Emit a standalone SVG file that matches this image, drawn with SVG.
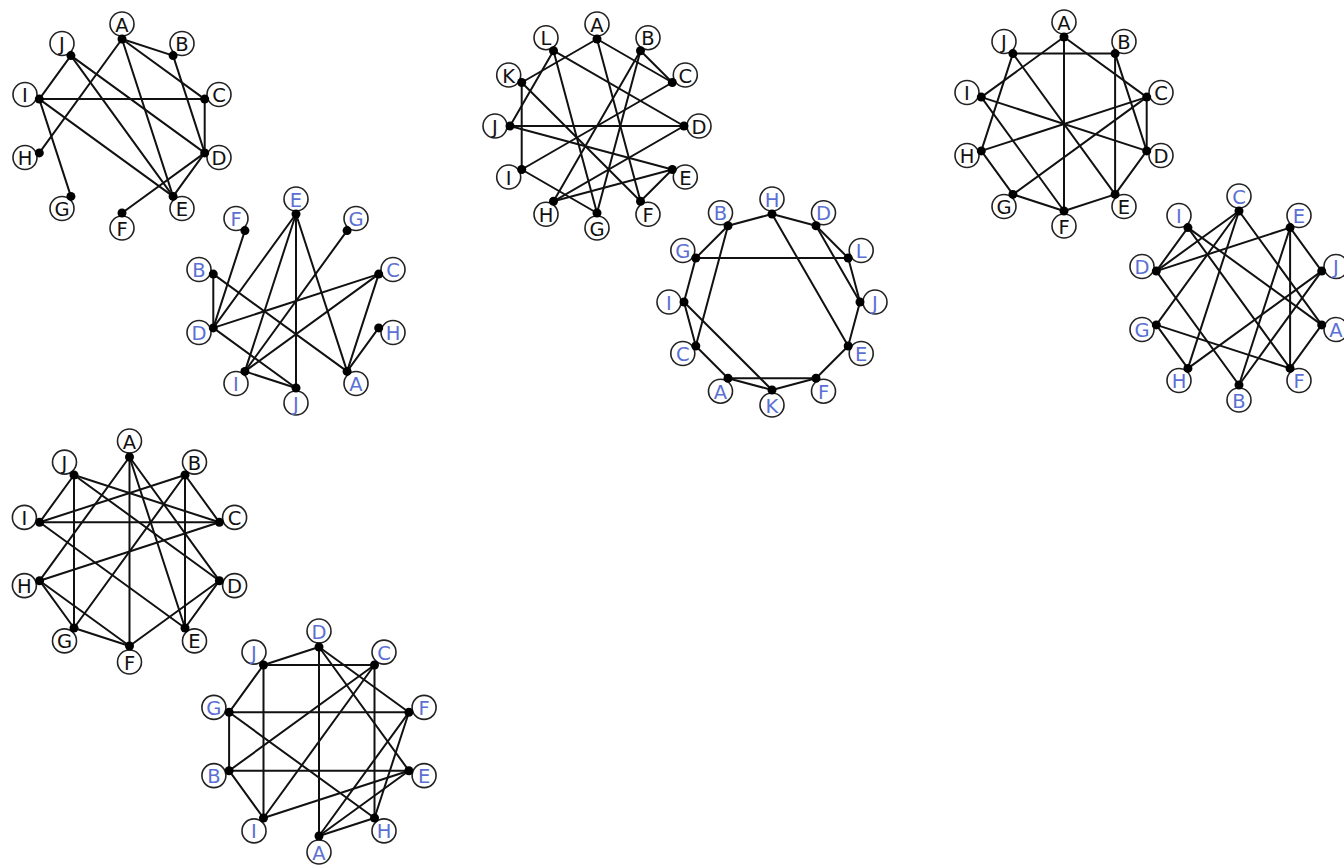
<svg xmlns="http://www.w3.org/2000/svg" width="1344" height="867" viewBox="0 0 1344 867">
<style>
.edges line{stroke:#111;stroke-width:2;stroke-linecap:round}
.lbl{fill:#fff;stroke:#222;stroke-width:1.6}
.dot{fill:#000}
text{font-family:"DejaVu Sans","Liberation Sans",sans-serif;font-size:19.5px;text-anchor:middle;dominant-baseline:central}
.k{fill:#111}
.b{fill:#5b70d4}
</style>
<rect width="1344" height="867" fill="#fff"/>

<!-- Graph 1 -->
<g id="graph1">
<g id="graph1-edges" class="edges">
<line x1="70.9" y1="55.6" x2="39.3" y2="99.1"/>
<line x1="70.9" y1="55.6" x2="173.1" y2="196.4"/>
<line x1="70.9" y1="55.6" x2="204.7" y2="152.9"/>
<line x1="39.3" y1="99.1" x2="204.7" y2="99.1"/>
<line x1="39.3" y1="99.1" x2="173.1" y2="196.4"/>
<line x1="39.3" y1="99.1" x2="70.9" y2="196.4"/>
<line x1="122" y1="39" x2="39.3" y2="152.9"/>
<line x1="122" y1="39" x2="173.1" y2="196.4"/>
<line x1="122" y1="39" x2="173.1" y2="55.6"/>
<line x1="122" y1="39" x2="204.7" y2="99.1"/>
<line x1="173.1" y1="55.6" x2="204.7" y2="152.9"/>
<line x1="204.7" y1="99.1" x2="204.7" y2="152.9"/>
<line x1="204.7" y1="152.9" x2="173.1" y2="196.4"/>
<line x1="204.7" y1="152.9" x2="122" y2="213"/>
</g>
<g id="g1-A"><circle class="lbl" cx="122" cy="24" r="12"/><text class="k" x="122" y="25">A</text><circle class="dot" cx="122" cy="39" r="4.5"/></g>
<g id="g1-B"><circle class="lbl" cx="182" cy="43.5" r="12"/><text class="k" x="182" y="44.5">B</text><circle class="dot" cx="173.1" cy="55.6" r="4.5"/></g>
<g id="g1-C"><circle class="lbl" cx="219" cy="94.5" r="12"/><text class="k" x="219" y="95.5">C</text><circle class="dot" cx="204.7" cy="99.1" r="4.5"/></g>
<g id="g1-D"><circle class="lbl" cx="219" cy="157.5" r="12"/><text class="k" x="219" y="158.5">D</text><circle class="dot" cx="204.7" cy="152.9" r="4.5"/></g>
<g id="g1-E"><circle class="lbl" cx="182" cy="208.5" r="12"/><text class="k" x="182" y="209.5">E</text><circle class="dot" cx="173.1" cy="196.4" r="4.5"/></g>
<g id="g1-F"><circle class="lbl" cx="122" cy="228" r="12"/><text class="k" x="122" y="229">F</text><circle class="dot" cx="122" cy="213" r="4.5"/></g>
<g id="g1-G"><circle class="lbl" cx="62" cy="208.5" r="12"/><text class="k" x="62" y="209.5">G</text><circle class="dot" cx="70.9" cy="196.4" r="4.5"/></g>
<g id="g1-H"><circle class="lbl" cx="25" cy="157.5" r="12"/><text class="k" x="25" y="158.5">H</text><circle class="dot" cx="39.3" cy="152.9" r="4.5"/></g>
<g id="g1-I"><circle class="lbl" cx="25" cy="94.5" r="12"/><text class="k" x="25" y="95.5">I</text><circle class="dot" cx="39.3" cy="99.1" r="4.5"/></g>
<g id="g1-J"><circle class="lbl" cx="62" cy="43.5" r="12"/><text class="k" x="62" y="44.5">J</text><circle class="dot" cx="70.9" cy="55.6" r="4.5"/></g>
</g>

<!-- Graph 2 -->
<g id="graph2">
<g id="graph2-edges" class="edges">
<line x1="244.9" y1="230.6" x2="213.3" y2="327.9"/>
<line x1="296" y1="214" x2="213.3" y2="327.9"/>
<line x1="296" y1="214" x2="244.9" y2="371.4"/>
<line x1="296" y1="214" x2="296" y2="388"/>
<line x1="296" y1="214" x2="347.1" y2="371.4"/>
<line x1="347.1" y1="230.6" x2="244.9" y2="371.4"/>
<line x1="213.3" y1="274.1" x2="213.3" y2="327.9"/>
<line x1="213.3" y1="274.1" x2="347.1" y2="371.4"/>
<line x1="378.7" y1="274.1" x2="213.3" y2="327.9"/>
<line x1="378.7" y1="274.1" x2="244.9" y2="371.4"/>
<line x1="378.7" y1="274.1" x2="347.1" y2="371.4"/>
<line x1="378.7" y1="327.9" x2="347.1" y2="371.4"/>
<line x1="213.3" y1="327.9" x2="296" y2="388"/>
<line x1="244.9" y1="371.4" x2="296" y2="388"/>
</g>
<g id="g2-E"><circle class="lbl" cx="296" cy="199" r="12"/><text class="b" x="296" y="200">E</text><circle class="dot" cx="296" cy="214" r="4.5"/></g>
<g id="g2-G"><circle class="lbl" cx="356" cy="218.5" r="12"/><text class="b" x="356" y="219.5">G</text><circle class="dot" cx="347.1" cy="230.6" r="4.5"/></g>
<g id="g2-C"><circle class="lbl" cx="393" cy="269.5" r="12"/><text class="b" x="393" y="270.5">C</text><circle class="dot" cx="378.7" cy="274.1" r="4.5"/></g>
<g id="g2-H"><circle class="lbl" cx="393" cy="332.5" r="12"/><text class="b" x="393" y="333.5">H</text><circle class="dot" cx="378.7" cy="327.9" r="4.5"/></g>
<g id="g2-A"><circle class="lbl" cx="356" cy="383.5" r="12"/><text class="b" x="356" y="384.5">A</text><circle class="dot" cx="347.1" cy="371.4" r="4.5"/></g>
<g id="g2-J"><circle class="lbl" cx="296" cy="403" r="12"/><text class="b" x="296" y="404">J</text><circle class="dot" cx="296" cy="388" r="4.5"/></g>
<g id="g2-I"><circle class="lbl" cx="236" cy="383.5" r="12"/><text class="b" x="236" y="384.5">I</text><circle class="dot" cx="244.9" cy="371.4" r="4.5"/></g>
<g id="g2-D"><circle class="lbl" cx="199" cy="332.5" r="12"/><text class="b" x="199" y="333.5">D</text><circle class="dot" cx="213.3" cy="327.9" r="4.5"/></g>
<g id="g2-B"><circle class="lbl" cx="199" cy="269.5" r="12"/><text class="b" x="199" y="270.5">B</text><circle class="dot" cx="213.3" cy="274.1" r="4.5"/></g>
<g id="g2-F"><circle class="lbl" cx="236" cy="218.5" r="12"/><text class="b" x="236" y="219.5">F</text><circle class="dot" cx="244.9" cy="230.6" r="4.5"/></g>
</g>

<!-- Graph 3 -->
<g id="graph3">
<g id="graph3-edges" class="edges">
<line x1="597" y1="39" x2="521.7" y2="82.5"/>
<line x1="597" y1="39" x2="672.3" y2="82.5"/>
<line x1="597" y1="39" x2="640.5" y2="201.3"/>
<line x1="553.5" y1="50.7" x2="510" y2="126"/>
<line x1="553.5" y1="50.7" x2="684" y2="126"/>
<line x1="553.5" y1="50.7" x2="597" y2="213"/>
<line x1="521.7" y1="82.5" x2="521.7" y2="169.5"/>
<line x1="521.7" y1="82.5" x2="640.5" y2="201.3"/>
<line x1="640.5" y1="50.7" x2="672.3" y2="82.5"/>
<line x1="640.5" y1="50.7" x2="553.5" y2="201.3"/>
<line x1="640.5" y1="50.7" x2="597" y2="213"/>
<line x1="672.3" y1="82.5" x2="521.7" y2="169.5"/>
<line x1="510" y1="126" x2="684" y2="126"/>
<line x1="510" y1="126" x2="672.3" y2="169.5"/>
<line x1="521.7" y1="169.5" x2="597" y2="213"/>
<line x1="684" y1="126" x2="553.5" y2="201.3"/>
<line x1="672.3" y1="169.5" x2="553.5" y2="201.3"/>
<line x1="672.3" y1="169.5" x2="640.5" y2="201.3"/>
</g>
<g id="g3-A"><circle class="lbl" cx="597" cy="24" r="12"/><text class="k" x="597" y="25">A</text><circle class="dot" cx="597" cy="39" r="4.5"/></g>
<g id="g3-B"><circle class="lbl" cx="648" cy="37.7" r="12"/><text class="k" x="648" y="38.7">B</text><circle class="dot" cx="640.5" cy="50.7" r="4.5"/></g>
<g id="g3-C"><circle class="lbl" cx="685.3" cy="75" r="12"/><text class="k" x="685.3" y="76">C</text><circle class="dot" cx="672.3" cy="82.5" r="4.5"/></g>
<g id="g3-D"><circle class="lbl" cx="699" cy="126" r="12"/><text class="k" x="699" y="127">D</text><circle class="dot" cx="684" cy="126" r="4.5"/></g>
<g id="g3-E"><circle class="lbl" cx="685.3" cy="177" r="12"/><text class="k" x="685.3" y="178">E</text><circle class="dot" cx="672.3" cy="169.5" r="4.5"/></g>
<g id="g3-F"><circle class="lbl" cx="648" cy="214.3" r="12"/><text class="k" x="648" y="215.3">F</text><circle class="dot" cx="640.5" cy="201.3" r="4.5"/></g>
<g id="g3-G"><circle class="lbl" cx="597" cy="228" r="12"/><text class="k" x="597" y="229">G</text><circle class="dot" cx="597" cy="213" r="4.5"/></g>
<g id="g3-H"><circle class="lbl" cx="546" cy="214.3" r="12"/><text class="k" x="546" y="215.3">H</text><circle class="dot" cx="553.5" cy="201.3" r="4.5"/></g>
<g id="g3-I"><circle class="lbl" cx="508.7" cy="177" r="12"/><text class="k" x="508.7" y="178">I</text><circle class="dot" cx="521.7" cy="169.5" r="4.5"/></g>
<g id="g3-J"><circle class="lbl" cx="495" cy="126" r="12"/><text class="k" x="495" y="127">J</text><circle class="dot" cx="510" cy="126" r="4.5"/></g>
<g id="g3-K"><circle class="lbl" cx="508.7" cy="75" r="12"/><text class="k" x="508.7" y="76">K</text><circle class="dot" cx="521.7" cy="82.5" r="4.5"/></g>
<g id="g3-L"><circle class="lbl" cx="546" cy="37.7" r="12"/><text class="k" x="546" y="38.7">L</text><circle class="dot" cx="553.5" cy="50.7" r="4.5"/></g>
</g>

<!-- Graph 4 -->
<g id="graph4">
<g id="graph4-edges" class="edges">
<line x1="728" y1="225.8" x2="772" y2="214"/>
<line x1="772" y1="214" x2="816" y2="225.8"/>
<line x1="772" y1="214" x2="848.2" y2="346"/>
<line x1="816" y1="225.8" x2="848.2" y2="258"/>
<line x1="816" y1="225.8" x2="860" y2="302"/>
<line x1="848.2" y1="258" x2="860" y2="302"/>
<line x1="695.8" y1="258" x2="848.2" y2="258"/>
<line x1="695.8" y1="258" x2="728" y2="225.8"/>
<line x1="695.8" y1="258" x2="684" y2="302"/>
<line x1="728" y1="225.8" x2="695.8" y2="346"/>
<line x1="684" y1="302" x2="695.8" y2="346"/>
<line x1="684" y1="302" x2="772" y2="390"/>
<line x1="695.8" y1="346" x2="728" y2="378.2"/>
<line x1="728" y1="378.2" x2="816" y2="378.2"/>
<line x1="728" y1="378.2" x2="772" y2="390"/>
<line x1="772" y1="390" x2="816" y2="378.2"/>
<line x1="816" y1="378.2" x2="848.2" y2="346"/>
<line x1="848.2" y1="346" x2="860" y2="302"/>
</g>
<g id="g4-H"><circle class="lbl" cx="772" cy="199" r="12"/><text class="b" x="772" y="200">H</text><circle class="dot" cx="772" cy="214" r="4.5"/></g>
<g id="g4-D"><circle class="lbl" cx="823.5" cy="212.8" r="12"/><text class="b" x="823.5" y="213.8">D</text><circle class="dot" cx="816" cy="225.8" r="4.5"/></g>
<g id="g4-L"><circle class="lbl" cx="861.2" cy="250.5" r="12"/><text class="b" x="861.2" y="251.5">L</text><circle class="dot" cx="848.2" cy="258" r="4.5"/></g>
<g id="g4-J"><circle class="lbl" cx="875" cy="302" r="12"/><text class="b" x="875" y="303">J</text><circle class="dot" cx="860" cy="302" r="4.5"/></g>
<g id="g4-E"><circle class="lbl" cx="861.2" cy="353.5" r="12"/><text class="b" x="861.2" y="354.5">E</text><circle class="dot" cx="848.2" cy="346" r="4.5"/></g>
<g id="g4-F"><circle class="lbl" cx="823.5" cy="391.2" r="12"/><text class="b" x="823.5" y="392.2">F</text><circle class="dot" cx="816" cy="378.2" r="4.5"/></g>
<g id="g4-K"><circle class="lbl" cx="772" cy="405" r="12"/><text class="b" x="772" y="406">K</text><circle class="dot" cx="772" cy="390" r="4.5"/></g>
<g id="g4-A"><circle class="lbl" cx="720.5" cy="391.2" r="12"/><text class="b" x="720.5" y="392.2">A</text><circle class="dot" cx="728" cy="378.2" r="4.5"/></g>
<g id="g4-C"><circle class="lbl" cx="682.8" cy="353.5" r="12"/><text class="b" x="682.8" y="354.5">C</text><circle class="dot" cx="695.8" cy="346" r="4.5"/></g>
<g id="g4-I"><circle class="lbl" cx="669" cy="302" r="12"/><text class="b" x="669" y="303">I</text><circle class="dot" cx="684" cy="302" r="4.5"/></g>
<g id="g4-G"><circle class="lbl" cx="682.8" cy="250.5" r="12"/><text class="b" x="682.8" y="251.5">G</text><circle class="dot" cx="695.8" cy="258" r="4.5"/></g>
<g id="g4-B"><circle class="lbl" cx="720.5" cy="212.8" r="12"/><text class="b" x="720.5" y="213.8">B</text><circle class="dot" cx="728" cy="225.8" r="4.5"/></g>
</g>

<!-- Graph 5 -->
<g id="graph5">
<g id="graph5-edges" class="edges">
<line x1="1012.9" y1="53.6" x2="1115.1" y2="53.6"/>
<line x1="1064" y1="37" x2="981.3" y2="97.1"/>
<line x1="1064" y1="37" x2="1064" y2="211"/>
<line x1="1064" y1="37" x2="1146.7" y2="97.1"/>
<line x1="1012.9" y1="53.6" x2="981.3" y2="150.9"/>
<line x1="1012.9" y1="53.6" x2="1115.1" y2="194.4"/>
<line x1="981.3" y1="97.1" x2="1146.7" y2="150.9"/>
<line x1="981.3" y1="97.1" x2="1064" y2="211"/>
<line x1="1115.1" y1="53.6" x2="1115.1" y2="194.4"/>
<line x1="1115.1" y1="53.6" x2="1146.7" y2="150.9"/>
<line x1="1146.7" y1="97.1" x2="1146.7" y2="150.9"/>
<line x1="1146.7" y1="97.1" x2="981.3" y2="150.9"/>
<line x1="1146.7" y1="97.1" x2="1012.9" y2="194.4"/>
<line x1="1146.7" y1="150.9" x2="1115.1" y2="194.4"/>
<line x1="981.3" y1="150.9" x2="1012.9" y2="194.4"/>
<line x1="1012.9" y1="194.4" x2="1064" y2="211"/>
<line x1="1064" y1="211" x2="1115.1" y2="194.4"/>
</g>
<g id="g5-A"><circle class="lbl" cx="1064" cy="22" r="12"/><text class="k" x="1064" y="23">A</text><circle class="dot" cx="1064" cy="37" r="4.5"/></g>
<g id="g5-B"><circle class="lbl" cx="1124" cy="41.5" r="12"/><text class="k" x="1124" y="42.5">B</text><circle class="dot" cx="1115.1" cy="53.6" r="4.5"/></g>
<g id="g5-C"><circle class="lbl" cx="1161" cy="92.5" r="12"/><text class="k" x="1161" y="93.5">C</text><circle class="dot" cx="1146.7" cy="97.1" r="4.5"/></g>
<g id="g5-D"><circle class="lbl" cx="1161" cy="155.5" r="12"/><text class="k" x="1161" y="156.5">D</text><circle class="dot" cx="1146.7" cy="150.9" r="4.5"/></g>
<g id="g5-E"><circle class="lbl" cx="1124" cy="206.5" r="12"/><text class="k" x="1124" y="207.5">E</text><circle class="dot" cx="1115.1" cy="194.4" r="4.5"/></g>
<g id="g5-F"><circle class="lbl" cx="1064" cy="226" r="12"/><text class="k" x="1064" y="227">F</text><circle class="dot" cx="1064" cy="211" r="4.5"/></g>
<g id="g5-G"><circle class="lbl" cx="1004" cy="206.5" r="12"/><text class="k" x="1004" y="207.5">G</text><circle class="dot" cx="1012.9" cy="194.4" r="4.5"/></g>
<g id="g5-H"><circle class="lbl" cx="967" cy="155.5" r="12"/><text class="k" x="967" y="156.5">H</text><circle class="dot" cx="981.3" cy="150.9" r="4.5"/></g>
<g id="g5-I"><circle class="lbl" cx="967" cy="92.5" r="12"/><text class="k" x="967" y="93.5">I</text><circle class="dot" cx="981.3" cy="97.1" r="4.5"/></g>
<g id="g5-J"><circle class="lbl" cx="1004" cy="41.5" r="12"/><text class="k" x="1004" y="42.5">J</text><circle class="dot" cx="1012.9" cy="53.6" r="4.5"/></g>
</g>

<!-- Graph 6 -->
<g id="graph6">
<g id="graph6-edges" class="edges">
<line x1="1239" y1="211" x2="1156.3" y2="271.1"/>
<line x1="1239" y1="211" x2="1156.3" y2="324.9"/>
<line x1="1239" y1="211" x2="1187.9" y2="368.4"/>
<line x1="1239" y1="211" x2="1321.7" y2="324.9"/>
<line x1="1187.9" y1="227.6" x2="1156.3" y2="271.1"/>
<line x1="1187.9" y1="227.6" x2="1290.1" y2="368.4"/>
<line x1="1187.9" y1="227.6" x2="1321.7" y2="324.9"/>
<line x1="1290.1" y1="227.6" x2="1156.3" y2="271.1"/>
<line x1="1290.1" y1="227.6" x2="1290.1" y2="368.4"/>
<line x1="1290.1" y1="227.6" x2="1239" y2="385"/>
<line x1="1290.1" y1="227.6" x2="1321.7" y2="271.1"/>
<line x1="1156.3" y1="271.1" x2="1239" y2="385"/>
<line x1="1156.3" y1="324.9" x2="1187.9" y2="368.4"/>
<line x1="1156.3" y1="324.9" x2="1290.1" y2="368.4"/>
<line x1="1321.7" y1="271.1" x2="1187.9" y2="368.4"/>
<line x1="1321.7" y1="271.1" x2="1239" y2="385"/>
<line x1="1321.7" y1="324.9" x2="1290.1" y2="368.4"/>
</g>
<g id="g6-C"><circle class="lbl" cx="1239" cy="196" r="12"/><text class="b" x="1239" y="197">C</text><circle class="dot" cx="1239" cy="211" r="4.5"/></g>
<g id="g6-E"><circle class="lbl" cx="1299" cy="215.5" r="12"/><text class="b" x="1299" y="216.5">E</text><circle class="dot" cx="1290.1" cy="227.6" r="4.5"/></g>
<g id="g6-J"><circle class="lbl" cx="1336" cy="266.5" r="12"/><text class="b" x="1336" y="267.5">J</text><circle class="dot" cx="1321.7" cy="271.1" r="4.5"/></g>
<g id="g6-A"><circle class="lbl" cx="1336" cy="329.5" r="12"/><text class="b" x="1336" y="330.5">A</text><circle class="dot" cx="1321.7" cy="324.9" r="4.5"/></g>
<g id="g6-F"><circle class="lbl" cx="1299" cy="380.5" r="12"/><text class="b" x="1299" y="381.5">F</text><circle class="dot" cx="1290.1" cy="368.4" r="4.5"/></g>
<g id="g6-B"><circle class="lbl" cx="1239" cy="400" r="12"/><text class="b" x="1239" y="401">B</text><circle class="dot" cx="1239" cy="385" r="4.5"/></g>
<g id="g6-H"><circle class="lbl" cx="1179" cy="380.5" r="12"/><text class="b" x="1179" y="381.5">H</text><circle class="dot" cx="1187.9" cy="368.4" r="4.5"/></g>
<g id="g6-G"><circle class="lbl" cx="1142" cy="329.5" r="12"/><text class="b" x="1142" y="330.5">G</text><circle class="dot" cx="1156.3" cy="324.9" r="4.5"/></g>
<g id="g6-D"><circle class="lbl" cx="1142" cy="266.5" r="12"/><text class="b" x="1142" y="267.5">D</text><circle class="dot" cx="1156.3" cy="271.1" r="4.5"/></g>
<g id="g6-I"><circle class="lbl" cx="1179" cy="215.5" r="12"/><text class="b" x="1179" y="216.5">I</text><circle class="dot" cx="1187.9" cy="227.6" r="4.5"/></g>
</g>

<!-- Graph 7 -->
<g id="graph7">
<g id="graph7-edges" class="edges">
<line x1="74" y1="475" x2="39.6" y2="522.3"/>
<line x1="74" y1="475" x2="74" y2="628"/>
<line x1="74" y1="475" x2="219.4" y2="522.3"/>
<line x1="74" y1="475" x2="219.4" y2="580.7"/>
<line x1="129.5" y1="457" x2="39.6" y2="580.7"/>
<line x1="129.5" y1="457" x2="129.5" y2="646"/>
<line x1="129.5" y1="457" x2="185" y2="628"/>
<line x1="129.5" y1="457" x2="219.4" y2="580.7"/>
<line x1="185" y1="475" x2="39.6" y2="522.3"/>
<line x1="185" y1="475" x2="74" y2="628"/>
<line x1="185" y1="475" x2="185" y2="628"/>
<line x1="185" y1="475" x2="219.4" y2="522.3"/>
<line x1="39.6" y1="522.3" x2="219.4" y2="522.3"/>
<line x1="39.6" y1="522.3" x2="185" y2="628"/>
<line x1="219.4" y1="522.3" x2="39.6" y2="580.7"/>
<line x1="39.6" y1="580.7" x2="74" y2="628"/>
<line x1="39.6" y1="580.7" x2="129.5" y2="646"/>
<line x1="219.4" y1="580.7" x2="129.5" y2="646"/>
<line x1="74" y1="628" x2="129.5" y2="646"/>
<line x1="219.4" y1="580.7" x2="185" y2="628"/>
</g>
<g id="g7-A"><circle class="lbl" cx="129.5" cy="441" r="12"/><text class="k" x="129.5" y="442">A</text><circle class="dot" cx="129.5" cy="457" r="4.5"/></g>
<g id="g7-B"><circle class="lbl" cx="194.5" cy="462.1" r="12"/><text class="k" x="194.5" y="463.1">B</text><circle class="dot" cx="185" cy="475" r="4.5"/></g>
<g id="g7-C"><circle class="lbl" cx="234.6" cy="517.4" r="12"/><text class="k" x="234.6" y="518.4">C</text><circle class="dot" cx="219.4" cy="522.3" r="4.5"/></g>
<g id="g7-D"><circle class="lbl" cx="234.6" cy="585.6" r="12"/><text class="k" x="234.6" y="586.6">D</text><circle class="dot" cx="219.4" cy="580.7" r="4.5"/></g>
<g id="g7-E"><circle class="lbl" cx="194.5" cy="640.9" r="12"/><text class="k" x="194.5" y="641.9">E</text><circle class="dot" cx="185" cy="628" r="4.5"/></g>
<g id="g7-F"><circle class="lbl" cx="129.5" cy="662" r="12"/><text class="k" x="129.5" y="663">F</text><circle class="dot" cx="129.5" cy="646" r="4.5"/></g>
<g id="g7-G"><circle class="lbl" cx="64.5" cy="640.9" r="12"/><text class="k" x="64.5" y="641.9">G</text><circle class="dot" cx="74" cy="628" r="4.5"/></g>
<g id="g7-H"><circle class="lbl" cx="24.4" cy="585.6" r="12"/><text class="k" x="24.4" y="586.6">H</text><circle class="dot" cx="39.6" cy="580.7" r="4.5"/></g>
<g id="g7-I"><circle class="lbl" cx="24.4" cy="517.4" r="12"/><text class="k" x="24.4" y="518.4">I</text><circle class="dot" cx="39.6" cy="522.3" r="4.5"/></g>
<g id="g7-J"><circle class="lbl" cx="64.5" cy="462.1" r="12"/><text class="k" x="64.5" y="463.1">J</text><circle class="dot" cx="74" cy="475" r="4.5"/></g>
</g>

<!-- Graph 8 -->
<g id="graph8">
<g id="graph8-edges" class="edges">
<line x1="263.5" y1="665" x2="319" y2="647"/>
<line x1="263.5" y1="665" x2="374.5" y2="665"/>
<line x1="263.5" y1="665" x2="263.5" y2="818"/>
<line x1="263.5" y1="665" x2="229.1" y2="712.3"/>
<line x1="319" y1="647" x2="319" y2="836"/>
<line x1="319" y1="647" x2="408.9" y2="712.3"/>
<line x1="319" y1="647" x2="408.9" y2="770.7"/>
<line x1="374.5" y1="665" x2="229.1" y2="770.7"/>
<line x1="374.5" y1="665" x2="263.5" y2="818"/>
<line x1="374.5" y1="665" x2="374.5" y2="818"/>
<line x1="229.1" y1="712.3" x2="408.9" y2="712.3"/>
<line x1="229.1" y1="712.3" x2="229.1" y2="770.7"/>
<line x1="229.1" y1="712.3" x2="374.5" y2="818"/>
<line x1="229.1" y1="770.7" x2="408.9" y2="770.7"/>
<line x1="229.1" y1="770.7" x2="263.5" y2="818"/>
<line x1="263.5" y1="818" x2="408.9" y2="770.7"/>
<line x1="408.9" y1="712.3" x2="319" y2="836"/>
<line x1="408.9" y1="712.3" x2="374.5" y2="818"/>
<line x1="408.9" y1="770.7" x2="319" y2="836"/>
<line x1="374.5" y1="818" x2="319" y2="836"/>
</g>
<g id="g8-D"><circle class="lbl" cx="319" cy="631" r="12"/><text class="b" x="319" y="632">D</text><circle class="dot" cx="319" cy="647" r="4.5"/></g>
<g id="g8-C"><circle class="lbl" cx="384" cy="652.1" r="12"/><text class="b" x="384" y="653.1">C</text><circle class="dot" cx="374.5" cy="665" r="4.5"/></g>
<g id="g8-F"><circle class="lbl" cx="424.1" cy="707.4" r="12"/><text class="b" x="424.1" y="708.4">F</text><circle class="dot" cx="408.9" cy="712.3" r="4.5"/></g>
<g id="g8-E"><circle class="lbl" cx="424.1" cy="775.6" r="12"/><text class="b" x="424.1" y="776.6">E</text><circle class="dot" cx="408.9" cy="770.7" r="4.5"/></g>
<g id="g8-H"><circle class="lbl" cx="384" cy="830.9" r="12"/><text class="b" x="384" y="831.9">H</text><circle class="dot" cx="374.5" cy="818" r="4.5"/></g>
<g id="g8-A"><circle class="lbl" cx="319" cy="852" r="12"/><text class="b" x="319" y="853">A</text><circle class="dot" cx="319" cy="836" r="4.5"/></g>
<g id="g8-I"><circle class="lbl" cx="254" cy="830.9" r="12"/><text class="b" x="254" y="831.9">I</text><circle class="dot" cx="263.5" cy="818" r="4.5"/></g>
<g id="g8-B"><circle class="lbl" cx="213.9" cy="775.6" r="12"/><text class="b" x="213.9" y="776.6">B</text><circle class="dot" cx="229.1" cy="770.7" r="4.5"/></g>
<g id="g8-G"><circle class="lbl" cx="213.9" cy="707.4" r="12"/><text class="b" x="213.9" y="708.4">G</text><circle class="dot" cx="229.1" cy="712.3" r="4.5"/></g>
<g id="g8-J"><circle class="lbl" cx="254" cy="652.1" r="12"/><text class="b" x="254" y="653.1">J</text><circle class="dot" cx="263.5" cy="665" r="4.5"/></g>
</g>
</svg>
